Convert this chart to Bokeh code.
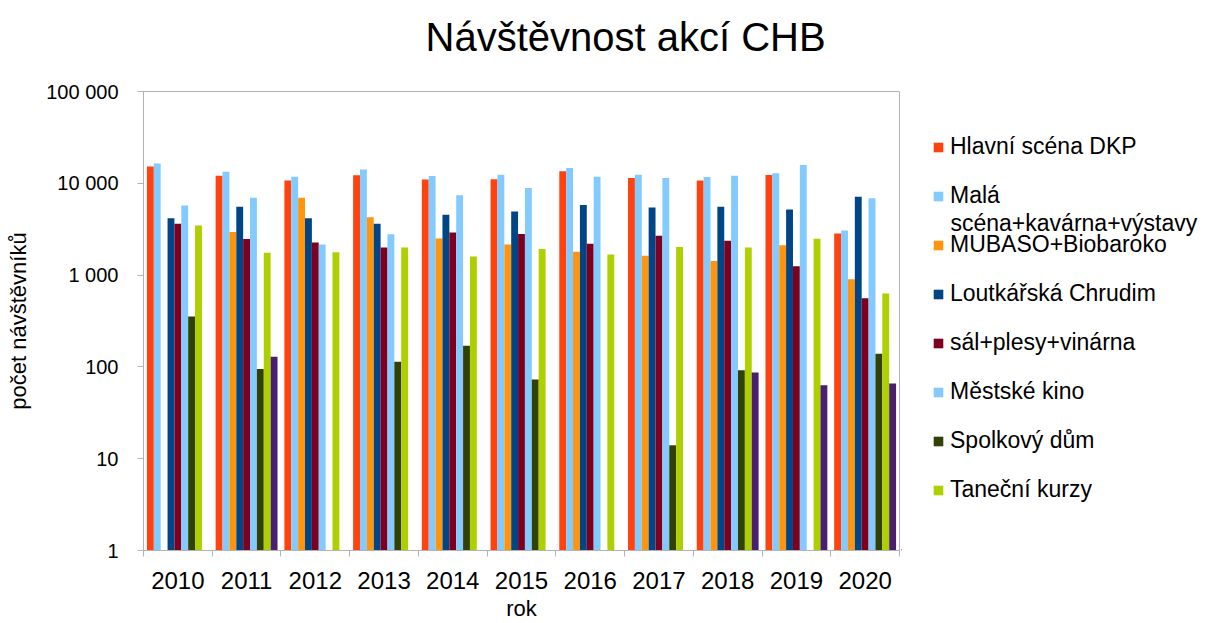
from bokeh.plotting import figure
from bokeh.layouts import row
from bokeh.models import Range1d, FixedTicker, Legend, LegendItem, Title
from bokeh.core.properties import value
from bokeh.embed import file_html
from bokeh.resources import INLINE

# ---------------- data ----------------
years = ["2010", "2011", "2012", "2013", "2014", "2015", "2016", "2017", "2018", "2019", "2020"]

hlavni_scena = [15200, 12100, 10700, 12200, 11000, 11100, 13500, 11400, 10700, 12300, 2840]
mala_scena = [16400, 13400, 11800, 14100, 12000, 12400, 14700, 12400, 11700, 12900, 3070]
mubaso = [None, 2940, 6940, 4280, 2510, 2150, 1800, 1620, 1420, 2120, 900]
loutkarska = [4170, 5540, 4170, 3620, 4540, 4930, 5820, 5450, 5540, 5190, 7120]
sal_plesy = [3620, 2470, 2270, 2000, 2920, 2800, 2200, 2680, 2370, 1250, 560]
mestske_kino = [5730, 6940, 2160, 2780, 7420, 8910, 11800, 11450, 12100, 15800, 6890]
spolkovy_dum = [354, 95, None, 114, 170, 73, None, 14, 92, None, 139]
tanecni_kurzy = [3480, 1750, 1770, 2000, 1590, 1920, 1680, 2020, 2000, 2490, 629]
devata_rada = [None, 129, None, None, None, None, None, None, 87, 63, 66]  # series without legend entry

series = [hlavni_scena, mala_scena, mubaso, loutkarska, sal_plesy,
          mestske_kino, spolkovy_dum, tanecni_kurzy, devata_rada]
legend_labels = ["Hlavní scéna DKP", "Malá", "MUBASO+Biobaroko",
                 "Loutkářská Chrudim", "sál+plesy+vinárna", "Městské kino", "Spolkový dům",
                 "Taneční kurzy", None]
legend_wrap_line = "scéna+kavárna+výstavy"   # wrapped second line of "Malá ..."
colors = ["#ff420e", "#83caff", "#ff950e", "#004586", "#7e0021",
          "#83caff", "#314004", "#aecf00", "#4b1f6f"]

y_ticks = [1, 10, 100, 1000, 10000, 100000]
y_tick_labels = ["1", "10", "100", "1 000", "10 000", "100 000"]

chart_title = "Návštěvnost akcí CHB"

FONT = "Liberation Sans"
GRAY = "#b3b3b3"

# ---------------- main chart ----------------
p = figure(width=901, height=623,
           x_range=Range1d(0, len(years)), y_range=Range1d(1, 100000),
           y_axis_type="log", output_backend="svg", toolbar_location=None,
           min_border_left=143, min_border_right=2, min_border_top=91, min_border_bottom=72)

# spacer (closest to the frame) + real title above it
spacer = Title(text=" ", text_font_size="1px", standoff=28)
p.add_layout(spacer, "above")
title = Title(text=chart_title, text_font=FONT, text_font_size="40px", text_font_style="normal",
              text_color="#000000", align="left", offset=282, vertical_align="top", standoff=0)
p.add_layout(title, "above")

p.xgrid.visible = False
p.ygrid.visible = False
p.outline_line_color = GRAY
p.outline_line_width = 1
p.background_fill_color = "white"
p.border_fill_color = "white"

n = len(series)
for i, vals in enumerate(series):
    xs, tops = [], []
    for j, v in enumerate(vals):
        if v is not None:
            xs.append(j + 0.5 + (i - (n - 1) / 2) * 0.1)
            tops.append(v)
    p.vbar(x=xs, top=tops, bottom=1, width=0.1, fill_color=colors[i], line_color=None)

# x axis: labels at group centres, tick marks between groups
centers = [j + 0.5 for j in range(len(years))]
bounds = [j for j in range(len(years) + 1)]
p.xaxis.ticker = FixedTicker(ticks=centers, minor_ticks=bounds)
p.xaxis.major_label_overrides = {c: y for c, y in zip(centers, years)}
p.xaxis.major_tick_line_color = None
p.xaxis.major_tick_out = 0
p.xaxis.major_tick_in = 0
p.xaxis.minor_tick_line_color = GRAY
p.xaxis.minor_tick_out = 6
p.xaxis.minor_tick_in = 0
p.xaxis.axis_line_color = GRAY
p.xaxis.major_label_text_font = FONT
p.xaxis.major_label_text_font_size = "24px"
p.xaxis.major_label_text_color = "#000000"
p.xaxis.major_label_standoff = 15
p.xaxis.axis_label = "rok"
p.xaxis.axis_label_text_font = FONT
p.xaxis.axis_label_text_font_size = "22px"
p.xaxis.axis_label_text_font_style = "normal"
p.xaxis.axis_label_text_color = "#000000"
p.xaxis.axis_label_standoff = 4

# y axis
p.yaxis.ticker = FixedTicker(ticks=y_ticks, minor_ticks=[])
p.yaxis.major_label_overrides = {t: s for t, s in zip(y_ticks, y_tick_labels)}
p.yaxis.major_tick_line_color = GRAY
p.yaxis.major_tick_out = 6
p.yaxis.major_tick_in = 0
p.yaxis.minor_tick_line_color = None
p.yaxis.axis_line_color = GRAY
p.yaxis.major_label_text_font = FONT
p.yaxis.major_label_text_font_size = "20px"
p.yaxis.major_label_text_color = "#000000"
p.yaxis.major_label_standoff = 19
p.yaxis.axis_label = "počet návštěvníků"
p.yaxis.axis_label_text_font = FONT
p.yaxis.axis_label_text_font_size = "22px"
p.yaxis.axis_label_text_font_style = "normal"
p.yaxis.axis_label_text_color = "#000000"
p.yaxis.axis_label_standoff = 12

# ---------------- legend panel (its frame is aligned with the chart frame) ----------------
LW, FH = 309, 460
lg = figure(width=LW, height=623, x_range=Range1d(0, LW), y_range=Range1d(0, FH),
            output_backend="svg", toolbar_location=None,
            x_axis_location=None, y_axis_location=None,
            min_border_left=0, min_border_right=0, min_border_top=91, min_border_bottom=72)
lg.xgrid.visible = False
lg.ygrid.visible = False
lg.outline_line_color = None
lg.background_fill_color = "white"
lg.border_fill_color = "white"

items = []
for lab, col in zip(legend_labels, colors):
    if lab is None:
        continue
    r = lg.vbar(x=[-100], top=[1], bottom=0, width=1, fill_color=col, line_color=None)
    items.append(LegendItem(label=lab, renderers=[r]))

legend = Legend(items=items, location=(31, 47), orientation="vertical",
                glyph_width=12, glyph_height=12, label_height=26, label_standoff=6,
                spacing=22, padding=0, margin=0,
                label_text_font=FONT, label_text_font_size="23px", label_text_color="#000000",
                border_line_color=None, background_fill_alpha=0)
lg.add_layout(legend, "center")

lg.text(x=[49], y=[551 - 223], text=[legend_wrap_line], text_font=value(FONT),
        text_font_size="23px", text_color="#000000", text_baseline="middle", text_align="left")

layout = row(p, lg, spacing=0)
open("out.html", "w").write(file_html(layout, INLINE))
